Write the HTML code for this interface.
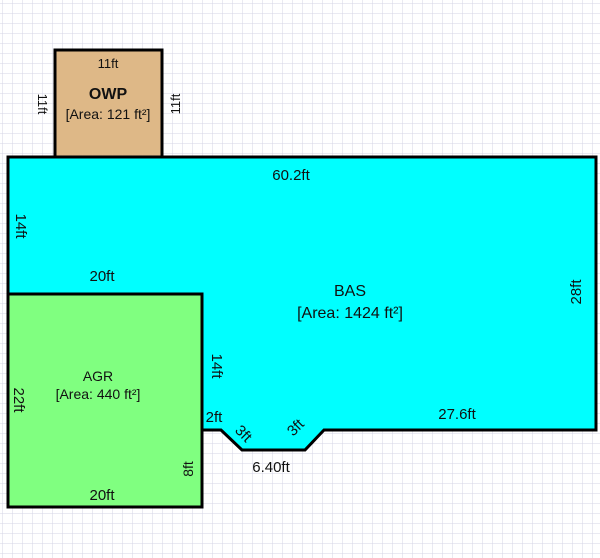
<!DOCTYPE html>
<html><head><style>
html,body{margin:0;padding:0;background:#fff;}
svg{display:block;}
text{font-family:"Liberation Sans",Arial,sans-serif;fill:#111;}
</style></head><body>
<svg width="600" height="558" viewBox="0 0 600 558">
<defs>
<pattern id="g" width="10" height="10" patternUnits="userSpaceOnUse" x="3" y="4">
<path d="M10 0V10M0 10H10" stroke="#d4d4e6" stroke-width="1" fill="none"/>
</pattern>
</defs>
<rect width="600" height="558" fill="#fff"/>
<rect width="600" height="558" fill="url(#g)"/>
<rect x="55" y="50" width="107" height="107" fill="#deb887" stroke="#000" stroke-width="3"/>
<polygon points="8,157 596,157 596,430 324,430 305,450 242,450 221,430 202,430 202,294 8,294" fill="#00ffff" stroke="#000" stroke-width="3" stroke-linejoin="miter"/>
<rect x="8" y="294" width="194" height="213" fill="#80ff80" stroke="#000" stroke-width="3"/>
<g font-size="14" text-anchor="middle">
<text x="108" y="68" font-size="13">11ft</text>
<text x="108" y="99" font-size="16" font-weight="bold">OWP</text>
<text x="108" y="119">[Area: 121 ft²]</text>
<text transform="translate(38,104) rotate(90)" font-size="13">11ft</text>
<text transform="translate(180,104) rotate(-90)" font-size="13">11ft</text>
<text x="291" y="180" font-size="15">60.2ft</text>
<text transform="translate(16,226) rotate(90)" font-size="15">14ft</text>
<text x="102" y="281" font-size="15">20ft</text>
<text x="350" y="296" font-size="16">BAS</text>
<text x="350" y="318" font-size="16">[Area: 1424 ft²]</text>
<text transform="translate(581,292) rotate(-90)" font-size="15">28ft</text>
<text transform="translate(212,366) rotate(90)" font-size="15">14ft</text>
<text x="457" y="419" font-size="15">27.6ft</text>
<text x="214" y="422" font-size="15">2ft</text>
<text transform="translate(240,437) rotate(45)" font-size="15">3ft</text>
<text transform="translate(299,431) rotate(-45)" font-size="15">3ft</text>
<text x="271" y="472" font-size="15">6.40ft</text>
<text x="98" y="381">AGR</text>
<text x="98" y="399">[Area: 440 ft²]</text>
<text transform="translate(14,400) rotate(90)" font-size="15">22ft</text>
<text transform="translate(193,469) rotate(-90)">8ft</text>
<text x="102" y="500" font-size="15">20ft</text>
</g>
</svg>
</body></html>
